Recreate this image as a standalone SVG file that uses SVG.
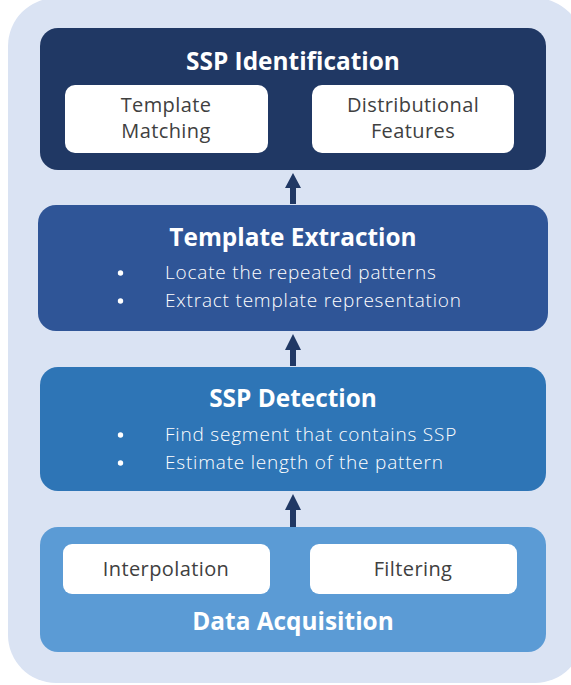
<svg xmlns="http://www.w3.org/2000/svg" width="571" height="685" viewBox="0 0 571 685">
<defs>
<style>
.title{font-family:"Open Sans","Noto Sans","Liberation Sans",sans-serif;font-weight:bold;font-size:24.4px;fill:#ffffff;text-anchor:middle}
.sub{font-family:"Open Sans","Noto Sans","Liberation Sans",sans-serif;font-size:20px;letter-spacing:0.4px;fill:#404040;text-anchor:middle}
.bul{font-family:"Open Sans","Noto Sans","Liberation Sans",sans-serif;font-weight:300;font-size:19px;letter-spacing:0.8px;fill:#ffffff}
.dot{fill:#ffffff}
.wbox{fill:#ffffff}
.arrow{fill:#203864}
</style>
</defs>
<rect x="8" y="-2" width="575" height="685" rx="48" fill="#dae3f3"/>
<g id="ssp-identification">
<rect x="40" y="28" width="506" height="142" rx="18" fill="#203864"/>
<text class="title" x="293" y="70">SSP Identification</text>
<rect class="wbox" x="65" y="85" width="203" height="68" rx="10"/>
<text class="sub" x="166" y="112">Template</text>
<text class="sub" x="166" y="138">Matching</text>
<rect class="wbox" x="312" y="85" width="202" height="68" rx="10"/>
<text class="sub" x="413" y="112">Distributional</text>
<text class="sub" x="413" y="138">Features</text>
</g>
<g id="template-extraction">
<rect x="38" y="205" width="510" height="126" rx="18" fill="#2f5597"/>
<text class="title" x="293" y="246">Template Extraction</text>
<circle class="dot" cx="120.5" cy="273" r="2.7"/>
<text class="bul" x="165" y="279">Locate the repeated patterns</text>
<circle class="dot" cx="120.5" cy="301" r="2.7"/>
<text class="bul" x="165" y="307">Extract template representation</text>
</g>
<g id="ssp-detection">
<rect x="40" y="367" width="506" height="124" rx="18" fill="#2e75b6"/>
<text class="title" x="293" y="407">SSP Detection</text>
<circle class="dot" cx="120.5" cy="435" r="2.7"/>
<text class="bul" x="165" y="441">Find segment that contains SSP</text>
<circle class="dot" cx="120.5" cy="463" r="2.7"/>
<text class="bul" x="165" y="469">Estimate length of the pattern</text>
</g>
<g id="data-acquisition">
<rect x="40" y="527" width="506" height="125" rx="18" fill="#5b9bd5"/>
<rect class="wbox" x="63" y="544" width="207" height="50" rx="9"/>
<text class="sub" x="166" y="576">Interpolation</text>
<rect class="wbox" x="310" y="544" width="207" height="50" rx="9"/>
<text class="sub" x="413" y="576">Filtering</text>
<text class="title" x="293" y="630">Data Acquisition</text>
</g>
<g id="connectors">
<path class="arrow" d="M290,204 V188 H285 L293,173 L301,188 H296 V204 Z"/>
<path class="arrow" d="M290,366 V350 H285 L293,334 L301,350 H296 V366 Z"/>
<path class="arrow" d="M290,527 V510 H285 L293,494 L301,510 H296 V527 Z"/>
</g>
</svg>
